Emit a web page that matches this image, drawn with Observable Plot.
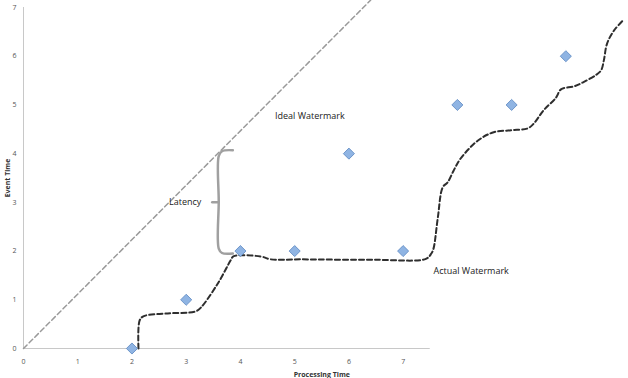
<!DOCTYPE html>
<html><head><meta charset="utf-8">
<script src="https://cdn.jsdelivr.net/npm/d3@7"></script>
<script src="https://cdn.jsdelivr.net/npm/@observablehq/plot@0.6"></script>
<style>
html,body{margin:0;padding:0;background:#fff;}
svg{display:block;}
</style>
</head><body>
<div id="chart"></div>
<script>
// Event points (processing time, event time)
const eventX = [2, 3, 4, 5, 6, 7, 8, 9, 10];
const eventY = [0, 1, 2, 2, 4, 2, 5, 5, 6];
// Ideal watermark endpoints
const idealX = [0, 6.4];
const idealY = [0, 7.15];
// Actual watermark
const actualX = [2.12, 2.14, 2.21, 2.66, 3.17, 3.27, 3.58, 3.82, 3.87, 4.37, 4.56, 5.11, 6.5, 7.42, 7.52, 7.56, 7.64, 7.73, 7.82, 7.93, 8.06, 8.38, 8.67, 8.99, 9.30, 9.41, 9.59, 9.82, 9.91, 10.15, 10.31, 10.55, 10.65, 10.70, 10.76, 10.89, 11.05];
const actualY = [0, 0.57, 0.66, 0.72, 0.76, 0.84, 1.33, 1.81, 1.89, 1.89, 1.83, 1.83, 1.82, 1.84, 1.95, 2.05, 2.69, 3.31, 3.41, 3.65, 3.90, 4.27, 4.44, 4.48, 4.52, 4.62, 4.89, 5.15, 5.32, 5.38, 5.46, 5.61, 5.71, 5.91, 6.26, 6.53, 6.73];
// Axis ticks
const xTicks = [0, 1, 2, 3, 4, 5, 6, 7];
const yTicks = [0, 1, 2, 3, 4, 5, 6, 7];
// Latency bracket
const bracketX = [3.86, 3.66, 3.6, 3.6, 3.6, 3.66, 3.86];
const bracketY = [4.07, 4.05, 3.95, 3.02, 2.05, 1.96, 1.95];
const bracketMidX = [3.48, 3.6];
const bracketMidY = [3.0, 3.0];

const events = eventX.map((x, i) => ({x, y: eventY[i]}));
const ideal = idealX.map((x, i) => ({x, y: idealY[i]}));
const actual = actualX.map((x, i) => ({x, y: actualY[i]}));
const bracket = bracketX.map((x, i) => ({x, y: bracketY[i]}));
const bracketMid = bracketMidX.map((x, i) => ({x, y: bracketMidY[i]}));

const plot = Plot.plot({
  width: 628, height: 378,
  marginLeft: 23, marginRight: 3, marginTop: 7, marginBottom: 30,
  x: {type: "linear", domain: [0, 11.1], axis: null},
  y: {type: "linear", domain: [0, 7], axis: null},
  style: {fontFamily: "'Open Sans', 'Liberation Sans', sans-serif", background: "#fff"},
  marks: [
    Plot.ruleY([0], {x1: 0, x2: 7.5, stroke: "#c8c8c8", strokeWidth: 1}),
    Plot.ruleX([0], {y1: 0, y2: 7.0, stroke: "#c8c8c8", strokeWidth: 1}),
    Plot.text(xTicks, {x: d => d, y: () => 0, dy: 13, text: d => String(d), fontSize: 7, fill: "#555"}),
    Plot.text(yTicks, {x: () => 0, y: d => d, dx: -7, text: d => String(d), fontSize: 7, fill: "#555", textAnchor: "end"}),
    Plot.text(["Processing Time"], {x: () => 5.5, y: () => 0, dy: 26, text: d => d, fontSize: 7, fontWeight: "bold", fill: "#333"}),
    Plot.text(["Event Time"], {x: () => 0, y: () => 3.5, dx: -16, text: d => d, fontSize: 7, fontWeight: "bold", fill: "#333", rotate: -90}),
    Plot.line(ideal, {x: "x", y: "y", stroke: "#9a9a9a", strokeWidth: 1.5, strokeDasharray: "5,3", clip: false}),
    Plot.line(actual, {x: "x", y: "y", stroke: "#2e2e2e", strokeWidth: 2, strokeDasharray: "5,3", curve: "catmull-rom"}),
    Plot.line(bracket, {x: "x", y: "y", stroke: "#a0a0a0", strokeWidth: 2.5, curve: "catmull-rom"}),
    Plot.line(bracketMid, {x: "x", y: "y", stroke: "#a0a0a0", strokeWidth: 2.5}),
    Plot.dot(events, {x: "x", y: "y", symbol: "diamond2", r: 5, fill: "#8fb4e3", stroke: "#5b87c0", strokeWidth: 0.8}),
    Plot.text(["Latency"], {x: () => 3.28, y: () => 3.0, text: d => d, fontSize: 9, fill: "#222", textAnchor: "end"}),
    Plot.text(["Ideal Watermark"], {x: () => 5.28, y: () => 4.78, text: d => d, fontSize: 9, fill: "#222"}),
    Plot.text(["Actual Watermark"], {x: () => 7.56, y: () => 1.58, text: d => d, fontSize: 9, fill: "#222", textAnchor: "start"})
  ]
});
document.getElementById("chart").appendChild(plot);
</script>
</body></html>
